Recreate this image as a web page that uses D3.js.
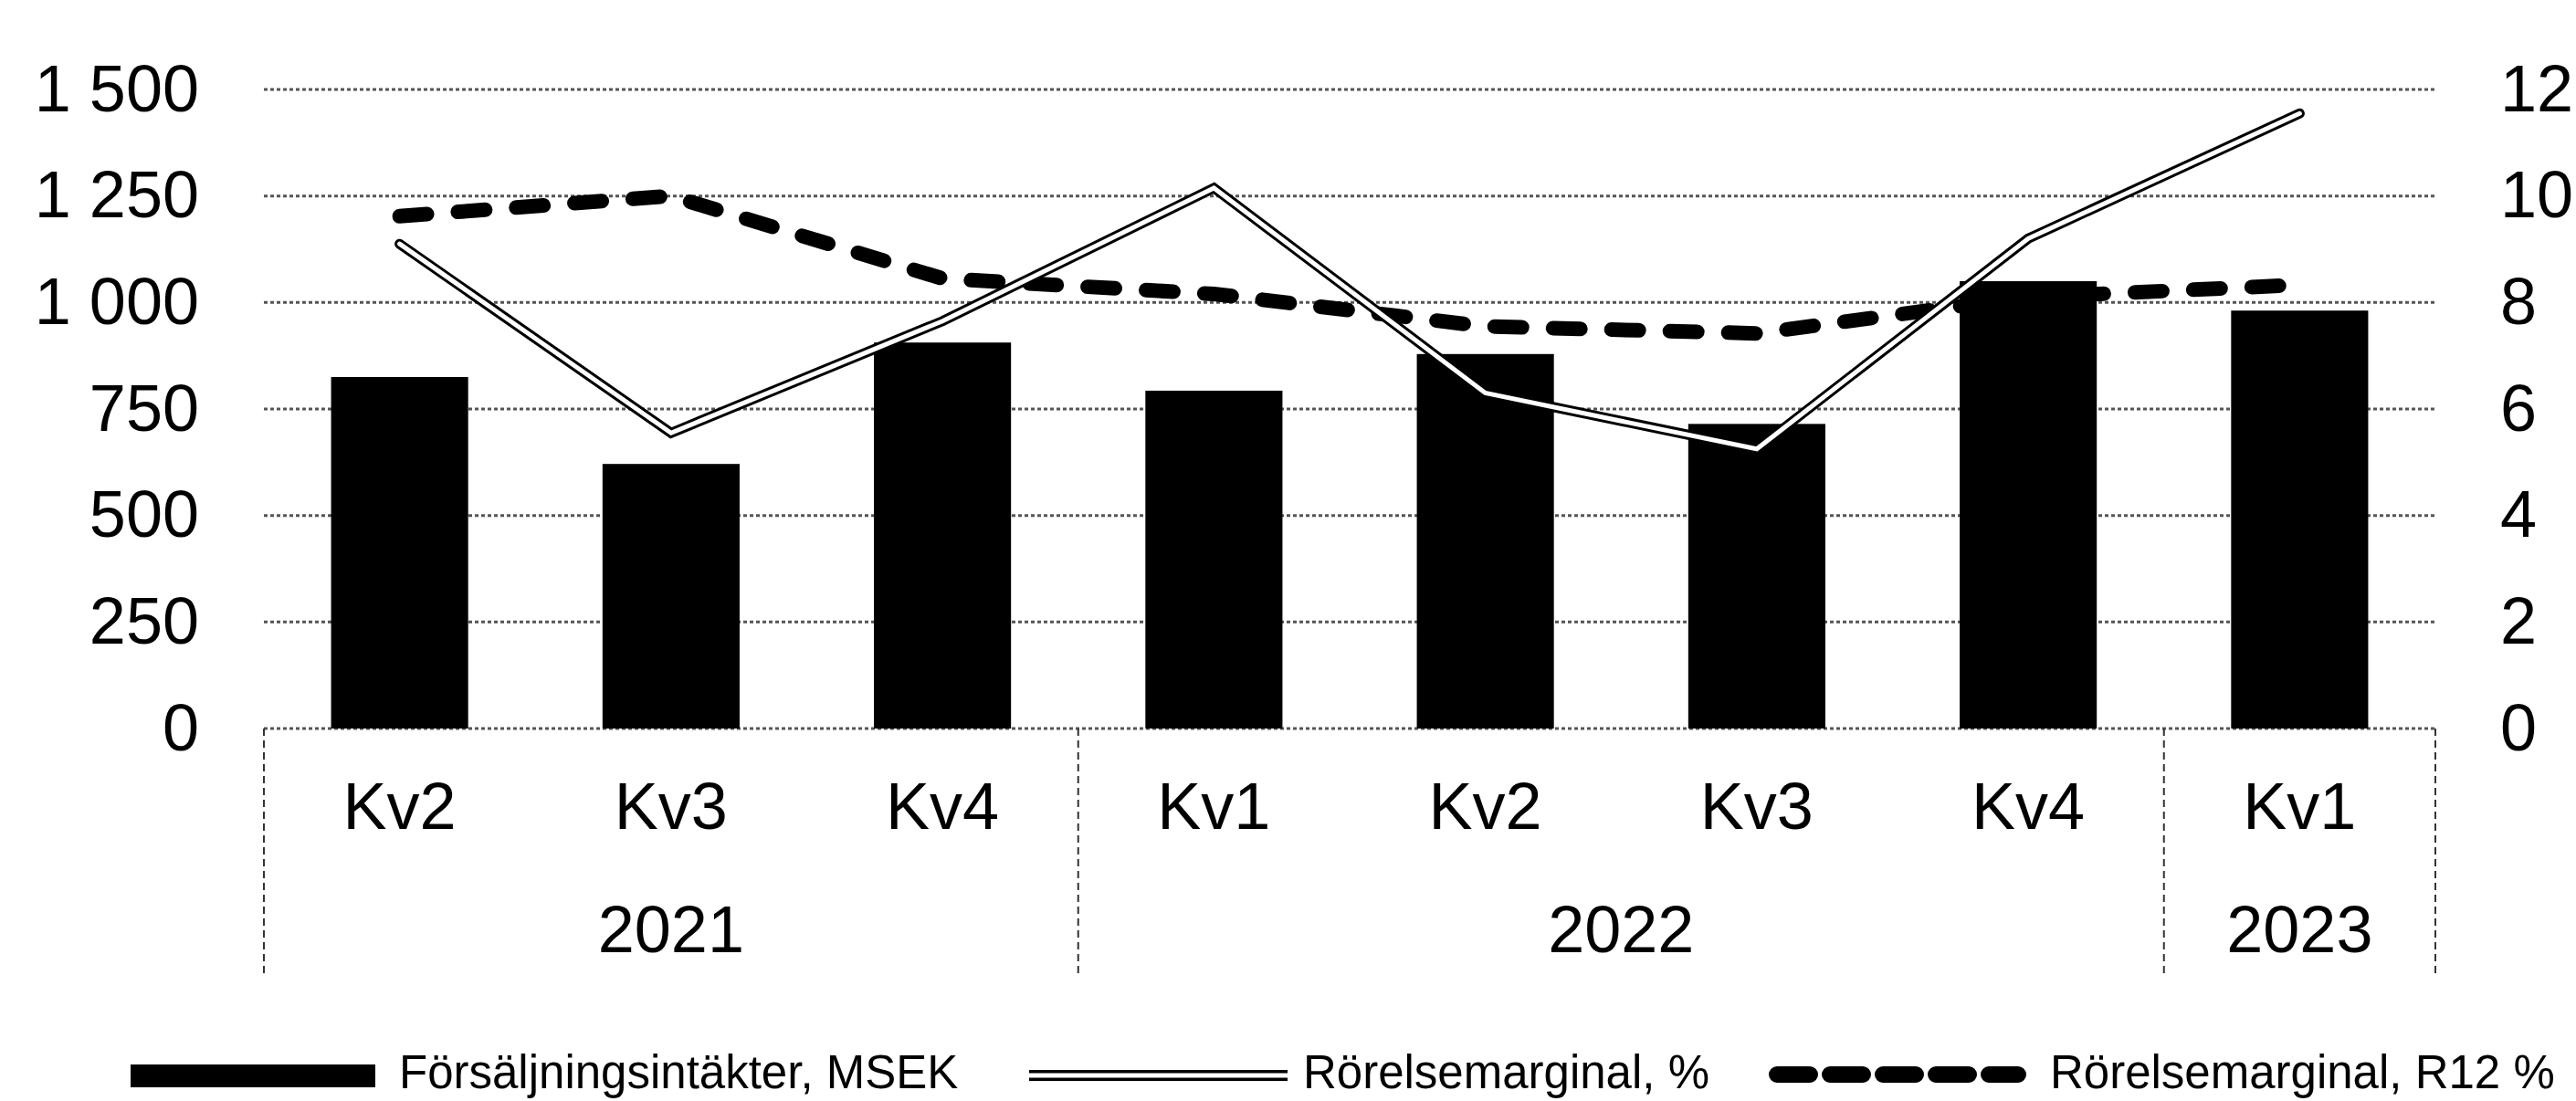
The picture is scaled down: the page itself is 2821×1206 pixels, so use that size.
<!DOCTYPE html>
<html><head><meta charset="utf-8">
<script src="https://cdn.jsdelivr.net/npm/d3@7"></script>
<style>
body{margin:0;background:#fff}
svg{display:block}
text{font-family:"Liberation Sans",Arial,sans-serif;fill:#000}
</style>
</head><body>
<svg id="c" width="2821" height="1206"></svg>
<script>
// ---- data ----
const quarters = ["Kv2","Kv3","Kv4","Kv1","Kv2","Kv3","Kv4","Kv1"];
const years = ["2021","2021","2021","2022","2022","2022","2022","2023"];
const sales = [825, 621, 906, 793, 879, 715, 1050, 981];            // Försäljningsintäkter, MSEK
const margin = [9.1, 5.55, 7.65, 10.15, 6.3, 5.25, 9.2, 11.55];     // Rörelsemarginal, %
const marginR12 = [9.62, 10.0, 8.45, 8.16, 7.55, 7.42, 8.1, 8.33]; // Rörelsemarginal, R12 %
const leftTicks = [0, 250, 500, 750, 1000, 1250, 1500];
const rightTicks = [0, 2, 4, 6, 8, 10, 12];
const legendLabels = ["Försäljningsintäkter, MSEK", "Rörelsemarginal, %", "Rörelsemarginal, R12 %"];

// ---- layout ----
const plot = {left: 289, right: 2667, top: 98, bottom: 798};
const svg = d3.select("#c");
const cats = quarters.map((q, i) => years[i] + " " + q);

const x = d3.scaleBand().domain(cats).range([plot.left, plot.right])
  .paddingInner(0.495).paddingOuter(0.2475);
const yL = d3.scaleLinear().domain([0, 1500]).range([plot.bottom, plot.top]);
const yR = d3.scaleLinear().domain([0, 12]).range([plot.bottom, plot.top]);
const cx = c => x(c) + x.bandwidth() / 2;

const loc = d3.formatLocale({decimal: ",", thousands: " ", grouping: [3], currency: ["", ""]});
const fmtL = loc.format(",d");

// gridlines
svg.append("g").selectAll("line").data(leftTicks).join("line")
  .attr("x1", plot.left).attr("x2", plot.right)
  .attr("y1", d => yL(d)).attr("y2", d => yL(d))
  .attr("stroke", "#555").attr("stroke-width", 3).attr("stroke-dasharray", "4 3");

// bars
svg.append("g").selectAll("rect").data(sales).join("rect")
  .attr("x", (d, i) => x(cats[i])).attr("width", x.bandwidth())
  .attr("y", d => yL(d)).attr("height", d => yL(0) - yL(d))
  .attr("fill", "#000");

// lines
const line = d3.line().x((d, i) => cx(cats[i])).y(d => yR(d));
svg.append("path").attr("d", line(marginR12)).attr("fill", "none")
  .attr("stroke", "#000").attr("stroke-width", 16)
  .attr("stroke-dasharray", "30 34").attr("stroke-linecap", "round");
svg.append("path").attr("d", line(margin)).attr("fill", "none")
  .attr("stroke", "#000").attr("stroke-width", 11)
  .attr("stroke-linecap", "round").attr("stroke-linejoin", "miter");
svg.append("path").attr("d", line(margin)).attr("fill", "none")
  .attr("stroke", "#fff").attr("stroke-width", 5)
  .attr("stroke-linecap", "round").attr("stroke-linejoin", "miter");

// axes
const gl = svg.append("g").attr("transform", `translate(${plot.left},0)`)
  .call(d3.axisLeft(yL).tickValues(leftTicks).tickSize(0).tickPadding(71).tickFormat(fmtL));
gl.select(".domain").remove();
gl.selectAll("text").attr("font-size", 72).attr("font-family", '"Liberation Sans",Arial,sans-serif').attr("fill", "#000");

const gr = svg.append("g").attr("transform", `translate(${plot.right},0)`)
  .call(d3.axisRight(yR).tickValues(rightTicks).tickSize(0).tickPadding(71).tickFormat(d3.format("d")));
gr.select(".domain").remove();
gr.selectAll("text").attr("font-size", 72).attr("font-family", '"Liberation Sans",Arial,sans-serif').attr("fill", "#000");

// category labels
svg.append("g").selectAll("text").data(quarters).join("text")
  .attr("x", (d, i) => cx(cats[i])).attr("y", 908)
  .attr("text-anchor", "middle").attr("font-size", 72).text(d => d);

// year groups
const groups = [];
years.forEach((yv, i) => {
  const g = groups[groups.length - 1];
  if (g && g.year === yv) g.last = i; else groups.push({year: yv, first: i, last: i});
});
const step = x.step();
const bounds = [cx(cats[0]) - step / 2].concat(groups.map(g => cx(cats[g.last]) + step / 2));
svg.append("g").selectAll("line").data(bounds).join("line")
  .attr("x1", d => d).attr("x2", d => d).attr("y1", plot.bottom).attr("y2", 1068)
  .attr("stroke", "#333").attr("stroke-width", 2).attr("stroke-dasharray", "8 5");
svg.append("g").selectAll("text").data(groups).join("text")
  .attr("x", g => (cx(cats[g.first]) + cx(cats[g.last])) / 2).attr("y", 1043)
  .attr("text-anchor", "middle").attr("font-size", 72).text(g => g.year);

// legend
const lg = svg.append("g");
lg.append("rect").attr("x", 143).attr("y", 1166).attr("width", 268).attr("height", 25).attr("fill", "#000");
lg.append("line").attr("x1", 1127).attr("x2", 1410).attr("y1", 1178).attr("y2", 1178)
  .attr("stroke", "#000").attr("stroke-width", 12);
lg.append("line").attr("x1", 1127).attr("x2", 1410).attr("y1", 1178).attr("y2", 1178)
  .attr("stroke", "#fff").attr("stroke-width", 5);
lg.append("line").attr("x1", 1946).attr("x2", 2210).attr("y1", 1177).attr("y2", 1177)
  .attr("stroke", "#000").attr("stroke-width", 18).attr("stroke-dasharray", "36 22").attr("stroke-linecap", "round");
const legendX = [437, 1427, 2245];
lg.selectAll("text").data(legendLabels).join("text")
  .attr("x", (d, i) => legendX[i]).attr("y", 1192).attr("font-size", 51).text(d => d);
</script>
</body></html>
